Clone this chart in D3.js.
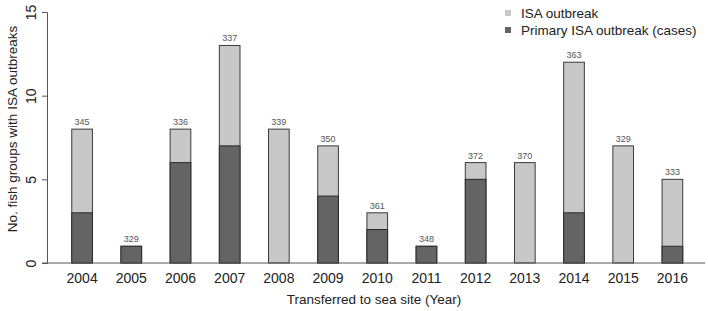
<!DOCTYPE html>
<html>
<head>
<meta charset="utf-8">
<script src="https://cdn.jsdelivr.net/npm/d3@7"></script>
<style>
  body { margin: 0; background: #fff; }
  svg { display: block; font-family: "Liberation Sans", Arial, sans-serif; }
</style>
</head>
<body>
<div id="chart"></div>
<script>
// Data
const years = ["2004", "2005", "2006", "2007", "2008", "2009", "2010", "2011", "2012", "2013", "2014", "2015", "2016"];
const totalOutbreaks = [8, 1, 8, 13, 8, 7, 3, 1, 6, 6, 12, 7, 5];
const primaryOutbreaks = [3, 1, 6, 7, 0, 4, 2, 1, 5, 0, 3, 0, 1];
const groupCounts = [345, 329, 336, 337, 339, 350, 361, 348, 372, 370, 363, 329, 333];
const yTicks = [0, 5, 10, 15];
const legendLabels = ["ISA outbreak", "Primary ISA outbreak (cases)"];

const lightColor = "#c8c8c8";
const darkColor = "#646464";

const width = 708, height = 311;

const svg = d3.select("#chart")
    .append("svg")
    .attr("width", width)
    .attr("height", height);

// Scales
const xScale = d3.scaleBand()
    .domain(years)
    .range([57.5, 697])
    .paddingInner(0.58)
    .paddingOuter(0.29);

const yScale = d3.scaleLinear()
    .domain([0, 15])
    .range([263, 12]);

// Bars: light total, dark primary on top
svg.append("g")
    .selectAll("rect")
    .data(years)
    .join("rect")
        .attr("x", d => xScale(d))
        .attr("width", xScale.bandwidth())
        .attr("y", (d, i) => yScale(totalOutbreaks[i]))
        .attr("height", (d, i) => yScale(0) - yScale(totalOutbreaks[i]))
        .attr("fill", lightColor)
        .attr("stroke", "#3a3a3a")
        .attr("stroke-width", 1);

svg.append("g")
    .selectAll("rect")
    .data(years.filter((d, i) => primaryOutbreaks[i] > 0))
    .join("rect")
        .attr("x", d => xScale(d))
        .attr("width", xScale.bandwidth())
        .attr("y", d => yScale(primaryOutbreaks[years.indexOf(d)]))
        .attr("height", d => yScale(0) - yScale(primaryOutbreaks[years.indexOf(d)]))
        .attr("fill", darkColor)
        .attr("stroke", "#2a2a2a")
        .attr("stroke-width", 1);

// Count labels above bars
svg.append("g")
    .selectAll("text")
    .data(years)
    .join("text")
        .attr("x", d => xScale(d) + xScale.bandwidth() / 2)
        .attr("y", (d, i) => yScale(totalOutbreaks[i]) - 4)
        .attr("text-anchor", "middle")
        .attr("font-size", 9)
        .attr("fill", "#555")
        .text((d, i) => groupCounts[i]);

// Y axis
const yAxis = d3.axisLeft(yScale)
    .tickValues(yTicks)
    .tickSize(5)
    .tickPadding(5);

const yAxisGroup = svg.append("g")
    .attr("transform", "translate(47,0)")
    .call(yAxis);

yAxisGroup.select(".domain").attr("stroke", "#555");
yAxisGroup.selectAll(".tick line").attr("stroke", "#555");
yAxisGroup.selectAll(".tick text")
    .attr("font-size", 14)
    .attr("fill", "#222")
    .attr("font-family", "Liberation Sans, Arial, sans-serif")
    .attr("text-anchor", "middle")
    .attr("x", -16)
    .attr("y", 0)
    .attr("dy", "0.35em")
    .attr("transform", "rotate(-90, -16, 0)");

// Horizontal baseline
svg.append("line")
    .attr("x1", 42)
    .attr("x2", 705)
    .attr("y1", yScale(0))
    .attr("y2", yScale(0))
    .attr("stroke", "#555");

// X axis labels
const xAxis = d3.axisBottom(xScale).tickSize(0).tickPadding(10);
const xAxisGroup = svg.append("g")
    .attr("transform", `translate(0,${yScale(0)})`)
    .call(xAxis);
xAxisGroup.select(".domain").remove();
xAxisGroup.selectAll(".tick text")
    .attr("font-size", 14)
    .attr("fill", "#222")
    .attr("font-family", "Liberation Sans, Arial, sans-serif");

// Axis titles
svg.append("text")
    .attr("x", 374)
    .attr("y", 304)
    .attr("text-anchor", "middle")
    .attr("font-size", 13.5)
    .attr("fill", "#222")
    .text("Transferred to sea site (Year)");

svg.append("text")
    .attr("transform", "translate(17,129) rotate(-90)")
    .attr("text-anchor", "middle")
    .attr("font-size", 13.5)
    .attr("fill", "#222")
    .text("No. fish groups with ISA outbreaks");

// Legend
const legend = svg.append("g")
    .selectAll("g")
    .data(legendLabels)
    .join("g")
        .attr("transform", (d, i) => `translate(505,${13 + i * 17})`);

legend.append("rect")
    .attr("x", 0)
    .attr("y", -3)
    .attr("width", 6)
    .attr("height", 6)
    .attr("fill", (d, i) => i === 0 ? lightColor : darkColor);

legend.append("text")
    .attr("x", 16)
    .attr("dy", "0.35em")
    .attr("font-size", 13.5)
    .attr("fill", "#222")
    .text(d => d);
</script>
</body>
</html>
